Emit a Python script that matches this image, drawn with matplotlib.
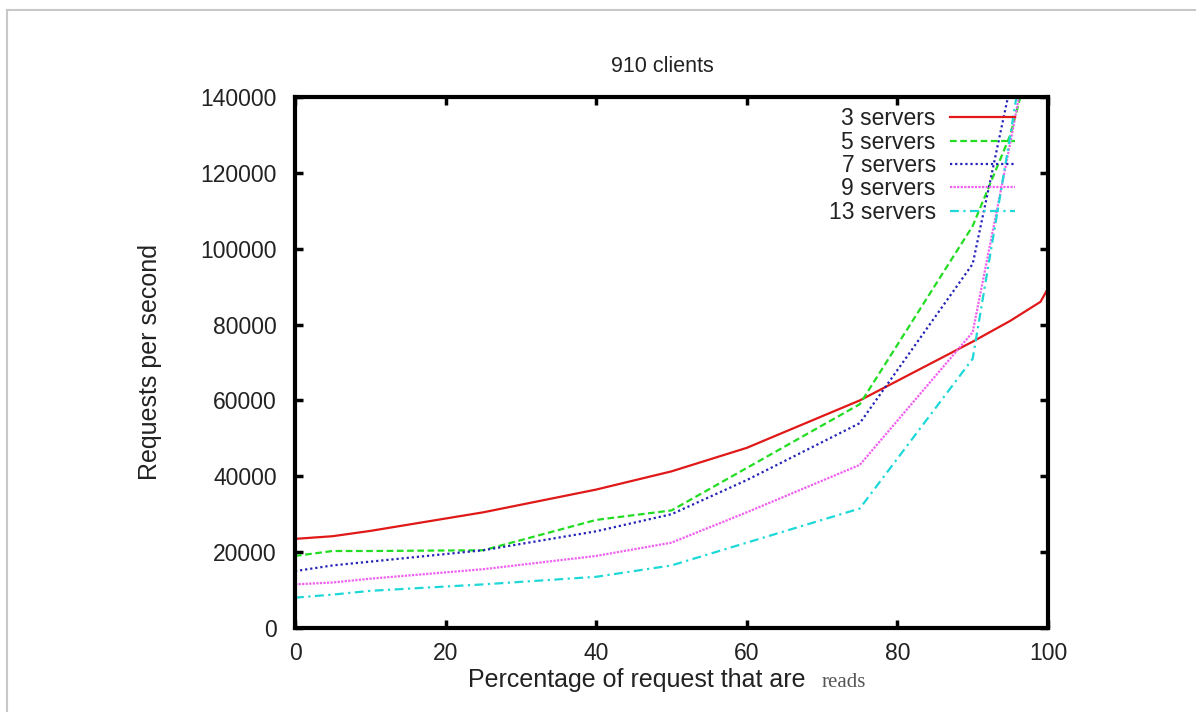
import matplotlib
matplotlib.use("Agg")
import matplotlib.pyplot as plt
from matplotlib.lines import Line2D

# percentage of requests that are reads
reads_pct = [0, 5, 10, 25, 40, 50, 60, 75, 90, 95, 99, 100]

servers_3 = [23500, 24200, 25600, 30500, 36500, 41300, 47500, 60000, 75500, 81000, 86000, 89500]
servers_5 = [19000, 20300, 20300, 20500, 28500, 31000, 42200, 59000, 106000, 130000, 160000, 165000]
servers_7 = [15000, 16500, 17500, 20500, 25500, 30000, 39000, 54000, 96000, 143000, 185000, 195000]
servers_9 = [11500, 12000, 13000, 15500, 19000, 22500, 30500, 43000, 78000, 128000, 170000, 180000]
servers_13 = [8000, 8800, 9800, 11500, 13500, 16500, 22500, 31500, 71000, 130000, 180000, 190000]

labels = ["3 servers", "5 servers", "7 servers", "9 servers", "13 servers"]
x_ticks = [0, 20, 40, 60, 80, 100]
y_ticks = [0, 20000, 40000, 60000, 80000, 100000, 120000, 140000]

plt.rcParams['font.family'] = ['Liberation Sans', 'DejaVu Sans']
fs = 16.5
fs_lab = 18

fig = plt.figure(figsize=(11.96, 7.12), dpi=100, facecolor='white')
ax = fig.add_axes([295 / 1196, 1 - 628 / 712, 753 / 1196, 531 / 712])

styles = [
    dict(color='#e01818', linestyle='-'),
    dict(color='#22dd22', linestyle=(0, (3, 1.6))),
    dict(color='#2323b8', linestyle=(0, (1, 1.3))),
    dict(color='#f060f0', linestyle=(0, (1, 0.6))),
    dict(color='#1ed8d8', linestyle=(0, (4, 2, 1, 2))),
]
series = [servers_3, servers_5, servers_7, servers_9, servers_13]
for vals, lab, st in zip(series, labels, styles):
    ax.plot(reads_pct, vals, label=lab, linewidth=1.6, **st)

ax.set_xlim(0, 100)
ax.set_ylim(0, 140000)
ax.set_xticks(x_ticks)
ax.set_yticks(y_ticks)
ax.tick_params(direction='in', length=6, width=2.5, top=True, right=True,
               labelsize=fs, colors='black')
ax.tick_params(axis='x', pad=10)
ax.tick_params(axis='y', pad=13)
ax.tick_params(axis='both', labelcolor='#222222')
for sp in ax.spines.values():
    sp.set_linewidth(3)
    sp.set_color('black')

ax.set_ylabel('Requests per second', fontsize=fs_lab, color='#222222')
ax.yaxis.set_label_coords(-0.176, 0.5)

fig.text(662 / 1196, 1 - 66 / 712, '910 clients', fontsize=15.5, ha='center', va='center',
         color='#222222')
fig.text(468 / 1196, 1 - 687 / 712, 'Percentage of request that are', fontsize=fs_lab,
         ha='left', va='baseline', color='#222222')
fig.text(822 / 1196, 1 - 687 / 712, 'reads', fontsize=15, ha='left', va='baseline',
         color='#555555', family=['Liberation Serif', 'DejaVu Serif'])

leg = ax.legend(loc='upper right', bbox_to_anchor=(0.956, 0.981), frameon=False,
                markerfirst=False, fontsize=fs, handlelength=2.85, handletextpad=0.6,
                labelspacing=0.02, borderpad=0, borderaxespad=0)
for t in leg.get_texts():
    t.set_color('#222222')

# grey page frame (top and left edges)
fig.add_artist(Line2D([7 / 1196, 1], [1 - 10 / 712, 1 - 10 / 712], color='#c8c8c8',
                      linewidth=1.5, transform=fig.transFigure))
fig.add_artist(Line2D([7 / 1196, 7 / 1196], [0, 1 - 10 / 712], color='#c8c8c8',
                      linewidth=1.5, transform=fig.transFigure))

fig.savefig('out.png', dpi=100, facecolor='white')
